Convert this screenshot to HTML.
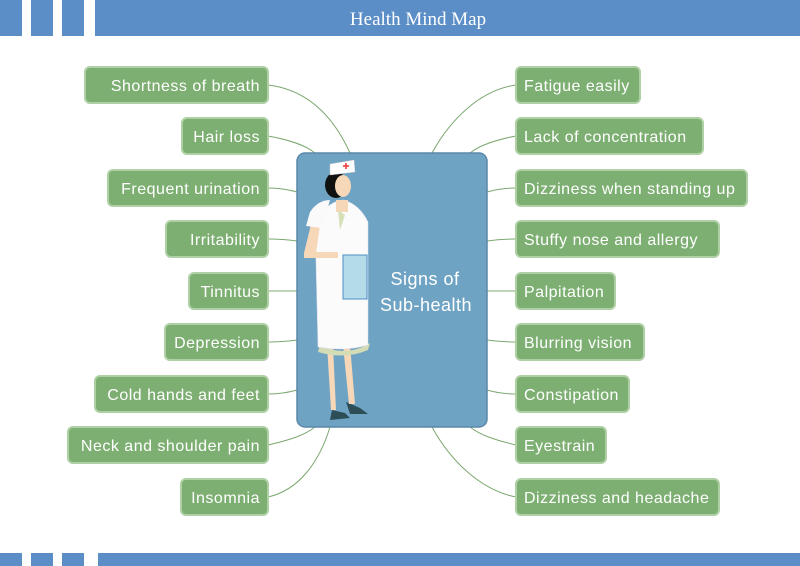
<!DOCTYPE html>
<html><head><meta charset="utf-8"><style>
html,body{margin:0;padding:0;background:#fff;width:800px;height:566px;overflow:hidden}
svg{display:block}
text{font-family:"Liberation Sans",sans-serif}
.lb{letter-spacing:0.5px}
</style></head><body>
<svg width="800" height="566" viewBox="0 0 800 566" xmlns="http://www.w3.org/2000/svg">
<g fill="#5b8dc6">
<rect x="0" y="0" width="22" height="36"/><rect x="31" y="0" width="22" height="36"/><rect x="62" y="0" width="22" height="36"/><rect x="95" y="0" width="705" height="36"/>
<rect x="0" y="553" width="22" height="13"/><rect x="31" y="553" width="22" height="13"/><rect x="62" y="553" width="22" height="13"/><rect x="98" y="553" width="702" height="13"/>
</g>
<text x="418" y="25" fill="#fff" style="font-family:'Liberation Serif',serif" font-size="19" text-anchor="middle">Health Mind Map</text>
<g fill="none" stroke="#7ba870" stroke-width="1">
<path d="M268 85 C310 90,335 120,350 153"/>
<path d="M268 136 C290 140,305 145,315 153"/>
<path d="M268 188 C282 188,290 190,297 192"/>
<path d="M268 239 C282 239,290 240,297 241"/>
<path d="M268 291 L297 291"/>
<path d="M268 342 C282 342,290 341,297 340"/>
<path d="M268 394 C282 394,290 392,297 390"/>
<path d="M268 445 C290 440,305 435,315 427"/>
<path d="M268 497 C300 490,320 460,330 427"/>
<path d="M516 85 C480 90,450 120,432 153"/>
<path d="M516 136 C495 140,480 145,470 153"/>
<path d="M516 188 C502 188,494 190,487 192"/>
<path d="M516 239 C502 239,494 240,487 241"/>
<path d="M516 291 L487 291"/>
<path d="M516 342 C502 342,494 341,487 340"/>
<path d="M516 394 C502 394,494 392,487 390"/>
<path d="M516 445 C495 440,480 435,470 427"/>
<path d="M516 497 C480 490,450 460,432 427"/>
</g>
<rect x="297" y="153" width="190" height="274" rx="8" fill="#6fa3c4" stroke="#5a88a8" stroke-width="1.5"/>
<text fill="#fff" font-size="18" text-anchor="middle" class="lb"><tspan x="425" y="285">Signs of</tspan><tspan x="426" y="311">Sub-health</tspan></text>
<g>
<path d="M332 410 L345 413 L350 418 L330 420 Z" fill="#2d4d57"/>
<path d="M346 402 L360 408 L368 414 L350 414 Z" fill="#2d4d57"/>
<path d="M327 345 L333 345 L336 410 L331 410 Z M343 345 L350 345 L355 404 L349 404 Z" fill="#f6d7b8"/>
<path d="M320 345 Q345 358 370 343 L368 350 Q345 360 318 352 Z" fill="#d3dcb4"/>
<path d="M315 220 Q330 200 344 200 Q360 205 368 222 L368 345 Q345 352 318 347 Z" fill="#fbfbfb" stroke="#dde" stroke-width="0.5"/>
<path d="M304 253 L314 212 L322 212 L316 253 Z" fill="#f6d7b8"/>
<path d="M304 252 L338 252 L338 258 L304 258 Z" fill="#f6d7b8"/>
<path d="M310 212 Q318 200 330 200 L322 228 L306 226 Z" fill="#fafafa"/>
<rect x="343" y="255" width="24" height="44" fill="#b4dbe8" stroke="#4c8fc6" stroke-width="1"/>
<rect x="336" y="200" width="12" height="12" fill="#f6d7b8"/>
<path d="M338 210 L340 230 L345 215 Z" fill="#d5e0b6"/>
<ellipse cx="336" cy="185" rx="11" ry="13" fill="#111"/>
<ellipse cx="343" cy="186" rx="8" ry="11" fill="#f6d7b8"/>
<path d="M330 164 L354 160 L355 172 L330 175 Z" fill="#fff" stroke="#ccc" stroke-width="0.5"/>
<path d="M346 163 v6 M343 166 h6" stroke="#e33" stroke-width="1.5"/>
</g>
<g fill="#7daf72" stroke="#aed0a4" stroke-width="2">
<rect x="85" y="67" width="183" height="36" rx="5"/>
<rect x="182" y="118" width="86" height="36" rx="5"/>
<rect x="108" y="170" width="160" height="36" rx="5"/>
<rect x="166" y="221" width="102" height="36" rx="5"/>
<rect x="189" y="273" width="79" height="36" rx="5"/>
<rect x="165" y="324" width="103" height="36" rx="5"/>
<rect x="95" y="376" width="173" height="36" rx="5"/>
<rect x="68" y="427" width="200" height="36" rx="5"/>
<rect x="181" y="479" width="87" height="36" rx="5"/>
<rect x="516" y="67" width="124" height="36" rx="5"/>
<rect x="516" y="118" width="187" height="36" rx="5"/>
<rect x="516" y="170" width="231" height="36" rx="5"/>
<rect x="516" y="221" width="203" height="36" rx="5"/>
<rect x="516" y="273" width="99" height="36" rx="5"/>
<rect x="516" y="324" width="128" height="36" rx="5"/>
<rect x="516" y="376" width="113" height="36" rx="5"/>
<rect x="516" y="427" width="90" height="36" rx="5"/>
<rect x="516" y="479" width="203" height="36" rx="5"/>
</g>
<g fill="#fff" font-size="16" class="lb">
<g text-anchor="end">
<text x="260" y="91">Shortness of breath</text>
<text x="260" y="142">Hair loss</text>
<text x="260" y="194">Frequent urination</text>
<text x="260" y="245">Irritability</text>
<text x="260" y="297">Tinnitus</text>
<text x="260" y="348">Depression</text>
<text x="260" y="400">Cold hands and feet</text>
<text x="260" y="451">Neck and shoulder pain</text>
<text x="260" y="503">Insomnia</text>
</g>
<text x="524" y="91">Fatigue easily</text>
<text x="524" y="142">Lack of concentration</text>
<text x="524" y="194">Dizziness when standing up</text>
<text x="524" y="245">Stuffy nose and allergy</text>
<text x="524" y="297">Palpitation</text>
<text x="524" y="348">Blurring vision</text>
<text x="524" y="400">Constipation</text>
<text x="524" y="451">Eyestrain</text>
<text x="524" y="503">Dizziness and headache</text>
</g>
</svg>
</body></html>
